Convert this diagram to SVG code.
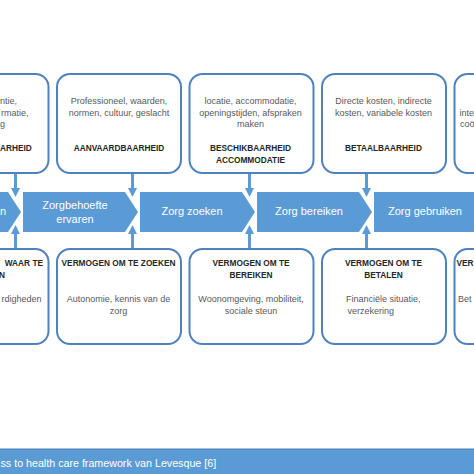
<svg xmlns="http://www.w3.org/2000/svg" width="474" height="474" viewBox="0 0 474 474">
<defs>
<style>
.box{fill:#ffffff;stroke:#4f82bd;stroke-width:2}
.chev{fill:#5b9bd5}
.t{font-family:"Liberation Sans",Arial,sans-serif;font-size:9px;fill:#595959}
.b{font-family:"Liberation Sans",Arial,sans-serif;font-size:8.3px;font-weight:bold;fill:#262626}
.w{font-family:"Liberation Sans",Arial,sans-serif;font-size:11px;fill:#ffffff}
.c{text-anchor:middle}
.e{text-anchor:end}
.conn{stroke:#5b9bd5;stroke-width:3;fill:none}
</style>
<marker id="ah" viewBox="0 0 9 9" refX="0" refY="4.5" markerWidth="9" markerHeight="9" markerUnits="userSpaceOnUse" orient="auto">
<path d="M0,0 L9,4.5 L0,9 z" fill="#5b9bd5"/>
</marker>
</defs>
<rect width="474" height="474" fill="#ffffff"/>

<!-- top boxes -->
<g id="top1">
<rect class="box" x="-75.5" y="74" width="124" height="99" rx="13"/>
<text class="t" x="0" y="103.5">ntie,</text>
<text class="t e" x="28.5" y="115.5">rmatie,</text>
<text class="t" x="0" y="127">g</text>
<text class="b" x="0" y="151">ARHEID</text>
</g>
<g id="top2">
<rect class="box" x="57" y="74" width="124" height="99" rx="13"/>
<text class="t c" x="119" y="103.5">Professioneel, waarden,</text>
<text class="t c" x="119" y="115.5">normen, cultuur, geslacht</text>
<text class="b c" x="119" y="151">AANVAARDBAARHEID</text>
</g>
<g id="top3">
<rect class="box" x="189.5" y="74" width="124" height="99" rx="13"/>
<text class="t c" x="250.5" y="103.5">locatie, accommodatie,</text>
<text class="t c" x="250.5" y="115.5">openingstijden, afspraken</text>
<text class="t c" x="250.5" y="127">maken</text>
<text class="b c" x="250.5" y="151">BESCHIKBAARHEID</text>
<text class="b c" x="250.5" y="162.5">ACCOMMODATIE</text>
</g>
<g id="top4">
<rect class="box" x="322" y="74" width="124" height="99" rx="13"/>
<text class="t c" x="383.5" y="103.5">Directe kosten, indirecte</text>
<text class="t c" x="383.5" y="115.5">kosten, variabele kosten</text>
<text class="b c" x="383.5" y="151">BETAALBAARHEID</text>
</g>
<g id="top5">
<rect class="box" x="454.5" y="74" width="124" height="99" rx="13"/>
<text class="t" x="459.5" y="115.5">inte</text>
<text class="t" x="460" y="127">coö</text>
</g>

<!-- process chevrons -->
<g id="step1">
<path class="chev" d="M-94,192 H8 L21,212 L8,232 H-94 Z"/>
<text class="w" x="0" y="215">n</text>
</g>
<g id="step2">
<path class="chev" d="M23,192 H125 L138,212 L125,232 H23 Z"/>
<text class="w c" x="75" y="208.5">Zorgbehoefte</text>
<text class="w c" x="75" y="223">ervaren</text>
</g>
<g id="step3">
<path class="chev" d="M140,192 H242 L255,212 L242,232 H140 Z"/>
<text class="w c" x="192" y="215">Zorg zoeken</text>
</g>
<g id="step4">
<path class="chev" d="M257,192 H359 L372,212 L359,232 H257 Z"/>
<text class="w c" x="309" y="215">Zorg bereiken</text>
</g>
<g id="step5">
<path class="chev" d="M374,192 H476 L489,212 L476,232 H374 Z"/>
<text class="w c" x="425" y="215">Zorg gebruiken</text>
</g>

<!-- bottom boxes -->
<g id="bot1">
<rect class="box" x="-75.5" y="249" width="124" height="95" rx="13"/>
<text class="b e" x="43" y="266">WAAR TE</text>
<text class="b" x="-1" y="278">N</text>
<text class="t e" x="41.5" y="301.5">rdigheden</text>
</g>
<g id="bot2">
<rect class="box" x="57" y="249" width="124" height="95" rx="13"/>
<text class="b c" x="118.5" y="266">VERMOGEN OM TE ZOEKEN</text>
<text class="t c" x="118.5" y="301.5">Autonomie, kennis van de</text>
<text class="t c" x="118.5" y="313.5">zorg</text>
</g>
<g id="bot3">
<rect class="box" x="189.5" y="249" width="124" height="95" rx="13"/>
<text class="b c" x="251" y="266">VERMOGEN OM TE</text>
<text class="b c" x="251" y="278">BEREIKEN</text>
<text class="t c" x="251" y="301.5">Woonomgeving, mobiliteit,</text>
<text class="t c" x="251" y="313.5">sociale steun</text>
</g>
<g id="bot4">
<rect class="box" x="322" y="249" width="124" height="95" rx="13"/>
<text class="b c" x="383.5" y="266">VERMOGEN OM TE</text>
<text class="b c" x="383.5" y="278">BETALEN</text>
<text class="t" x="346" y="301.5">Financiële situatie,</text>
<text class="t" x="347.5" y="313.5">verzekering</text>
</g>
<g id="bot5">
<rect class="box" x="454.5" y="249" width="124" height="95" rx="13"/>
<text class="b" x="456.5" y="266">VER</text>
<text class="t" x="458" y="301.5">Bet</text>
</g>

<!-- connectors -->
<g id="connectors">
<line class="conn" x1="15.5" y1="174" x2="15.5" y2="188" marker-end="url(#ah)"/>
<line class="conn" x1="132.5" y1="174" x2="132.5" y2="188" marker-end="url(#ah)"/>
<line class="conn" x1="249.5" y1="174" x2="249.5" y2="188" marker-end="url(#ah)"/>
<line class="conn" x1="366.5" y1="174" x2="366.5" y2="188" marker-end="url(#ah)"/>
<line class="conn" x1="15.5" y1="248" x2="15.5" y2="234" marker-end="url(#ah)"/>
<line class="conn" x1="132.5" y1="248" x2="132.5" y2="234" marker-end="url(#ah)"/>
<line class="conn" x1="249.5" y1="248" x2="249.5" y2="234" marker-end="url(#ah)"/>
<line class="conn" x1="366.5" y1="248" x2="366.5" y2="234" marker-end="url(#ah)"/>
</g>

<!-- caption banner -->
<g id="caption">
<rect x="0" y="449" width="474" height="25" fill="#5b9bd5"/>
<rect x="0" y="448.5" width="474" height="1.2" fill="#4a82bd"/>
<text font-family="Liberation Sans, Arial, sans-serif" font-size="10.7" fill="#ffffff" x="0.5" y="466.5">ss to health care framework van Levesque [6]</text>
</g>
</svg>
